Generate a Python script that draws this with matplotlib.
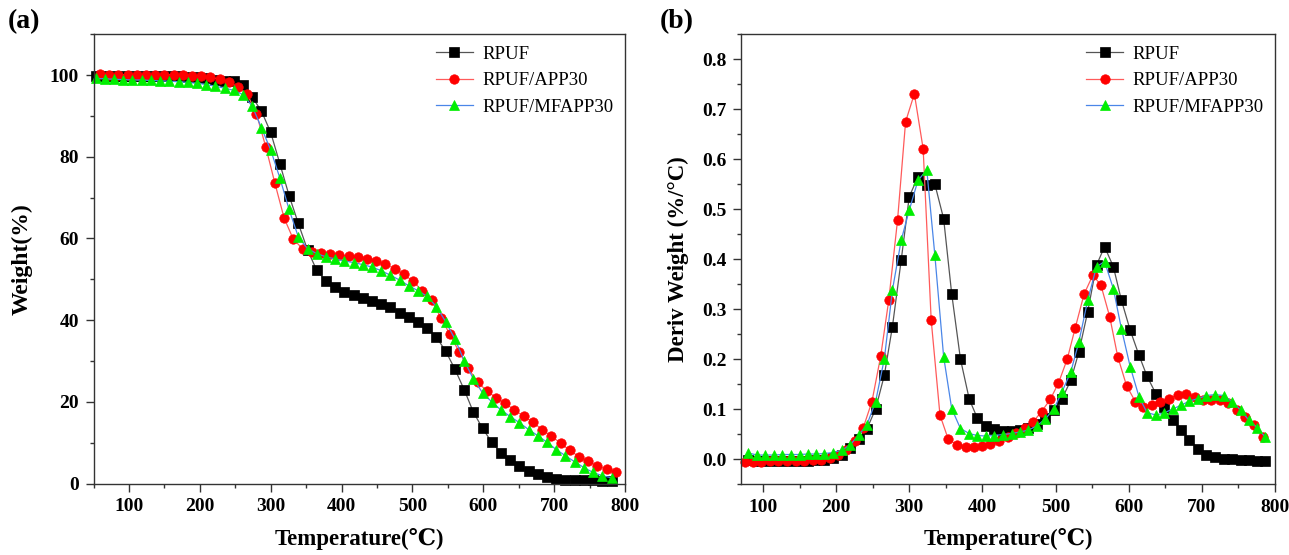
import matplotlib
matplotlib.use("Agg")
import matplotlib.pyplot as plt
from matplotlib.ticker import MultipleLocator, FormatStrFormatter

plt.rcParams['font.family'] = ['Liberation Serif', 'DejaVu Serif']

# ---------------- Panel (a): TGA weight (%) ----------------
temp_a_bg = [53, 66, 79, 92, 105, 118, 131, 144, 157, 170, 183, 196, 209, 222, 235, 248,
             261, 274, 287, 300, 313, 326, 339, 352, 365, 378, 391, 404, 417, 430, 443, 456,
             469, 482, 495, 508, 521, 534, 547, 560, 573, 586, 599, 612, 625, 638, 651, 664,
             677, 690, 703, 716, 729, 742, 755, 768, 781]
temp_a_red = [59, 72, 85, 98, 111, 124, 137, 150, 163, 176, 189, 202, 215, 228, 241, 254,
              267, 280, 293, 306, 319, 332, 345, 358, 371, 384, 397, 410, 423, 436, 449, 462,
              475, 488, 501, 514, 527, 540, 553, 566, 579, 592, 605, 618, 631, 644, 657, 670,
              683, 696, 709, 722, 735, 748, 761, 774, 787]

weight_rpuf = [99.7, 99.7, 99.7, 99.7, 99.7, 99.7, 99.7, 99.7, 99.7, 99.7, 99.6, 99.5, 99.3, 98.9,
               98.5, 98.6, 97.5, 94.6, 91.2, 86.0, 78.3, 70.5, 63.7, 57.2, 52.2, 49.6, 48.0, 47.0,
               46.2, 45.5, 44.8, 44.0, 43.1, 41.8, 40.7, 39.6, 38.1, 35.8, 32.4, 28.0, 23.0, 17.5,
               13.5, 10.1, 7.5, 5.7, 4.3, 3.1, 2.25, 1.55, 1.1, 0.9, 0.8, 0.8, 0.8, 0.7, 0.6]
weight_app30 = [100.2, 100.1, 100.1, 100.1, 100.1, 100.1, 100.1, 100.1, 100.1, 100.0, 99.9, 99.8,
                99.5, 99.0, 98.4, 97.0, 95.3, 90.5, 82.5, 73.5, 65.0, 59.8, 57.5, 56.8, 56.5, 56.3,
                56.0, 55.7, 55.4, 55.0, 54.5, 53.7, 52.6, 51.2, 49.5, 47.2, 45.0, 40.6, 36.5, 32.2,
                28.2, 24.8, 22.7, 21.0, 19.6, 18.0, 16.5, 15.0, 13.2, 11.6, 9.9, 8.1, 6.6, 5.4, 4.3,
                3.5, 2.8]
weight_mfapp30 = [99.2, 99.1, 99.0, 98.9, 98.8, 98.8, 98.7, 98.6, 98.5, 98.4, 98.2, 98.0, 97.7,
                  97.3, 96.8, 96.3, 95.2, 92.4, 87.1, 81.7, 74.8, 67.1, 60.4, 57.5, 56.3, 55.5,
                  55.0, 54.5, 54.1, 53.6, 53.0, 52.1, 51.0, 49.8, 48.4, 47.2, 45.8, 43.3, 39.6,
                  35.4, 30.1, 25.6, 22.2, 20.0, 18.0, 16.4, 14.9, 13.2, 11.7, 10.1, 8.3, 6.8, 5.3,
                  3.9, 2.7, 1.9, 1.4]

# ---------------- Panel (b): DTG (%/°C) ----------------
temp_b_bg = [80, 92, 103, 115, 126, 138, 150, 161, 173, 184, 196, 208, 219, 231, 242, 254, 266,
             277, 289, 300, 312, 324, 335, 347, 358, 370, 382, 393, 405, 416, 428, 440, 451, 463,
             474, 486, 498, 509, 521, 532, 544, 556, 567, 579, 590, 602, 614, 625, 637, 648, 660,
             672, 683, 695, 706, 718, 730, 741, 753, 764, 776, 786]
temp_b_red = [75, 87, 98, 110, 121, 133, 145, 156, 168, 179, 191, 203, 214, 226, 237, 249, 261,
              272, 284, 295, 307, 319, 330, 342, 353, 365, 377, 388, 400, 411, 423, 435, 446, 458,
              469, 481, 493, 504, 516, 527, 539, 551, 562, 574, 585, 597, 609, 620, 632, 643, 655,
              667, 678, 690, 701, 713, 725, 736, 748, 759, 771, 783]

deriv_rpuf = [-0.002, -0.003, -0.003, -0.004, -0.004, -0.004, -0.003, -0.003, -0.002, -0.001,
              0.002, 0.008, 0.022, 0.041, 0.060, 0.100, 0.168, 0.265, 0.398, 0.525, 0.565, 0.548,
              0.550, 0.481, 0.331, 0.200, 0.120, 0.082, 0.066, 0.060, 0.057, 0.056, 0.058, 0.063,
              0.071, 0.083, 0.098, 0.121, 0.158, 0.215, 0.295, 0.388, 0.425, 0.385, 0.318, 0.258,
              0.208, 0.166, 0.131, 0.105, 0.078, 0.058, 0.038, 0.021, 0.008, 0.004, 0.001, 0.000,
              -0.001, -0.002, -0.003, -0.004]
deriv_app30 = [-0.006, -0.005, -0.005, -0.004, -0.004, -0.004, -0.003, -0.003, -0.002, -0.001,
               0.003, 0.009, 0.019, 0.036, 0.062, 0.115, 0.206, 0.318, 0.478, 0.675, 0.731, 0.621,
               0.278, 0.088, 0.041, 0.028, 0.024, 0.024, 0.027, 0.031, 0.037, 0.044, 0.052, 0.062,
               0.074, 0.095, 0.120, 0.152, 0.200, 0.263, 0.330, 0.368, 0.348, 0.285, 0.205, 0.147,
               0.115, 0.105, 0.108, 0.115, 0.121, 0.128, 0.131, 0.125, 0.118, 0.118, 0.118, 0.112,
               0.098, 0.085, 0.068, 0.045]
deriv_mfapp30 = [0.012, 0.008, 0.008, 0.008, 0.009, 0.009, 0.009, 0.010, 0.010, 0.011, 0.013,
                 0.018, 0.028, 0.048, 0.068, 0.115, 0.201, 0.338, 0.438, 0.498, 0.558, 0.578,
                 0.408, 0.205, 0.101, 0.061, 0.051, 0.047, 0.046, 0.047, 0.049, 0.051, 0.054,
                 0.058, 0.066, 0.080, 0.101, 0.135, 0.175, 0.235, 0.318, 0.385, 0.395, 0.341,
                 0.261, 0.185, 0.125, 0.093, 0.088, 0.092, 0.100, 0.108, 0.116, 0.121, 0.127,
                 0.129, 0.127, 0.115, 0.098, 0.078, 0.062, 0.045]

labels = ["RPUF", "RPUF/APP30", "RPUF/MFAPP30"]
line_colors = ["#555555", "#ff5a5a", "#4a86e8"]
marker_colors = ["#000000", "#ff0000", "#00ee00"]
markers = ["s", "o", "^"]
msizes = [6.6, 6.8, 7.4]

W, H = 1289, 555
fig = plt.figure(figsize=(W / 100, H / 100), dpi=100)

ax_a = fig.add_axes([93.5 / W, 1 - 483.5 / H, (625 - 93.5) / W, (483.5 - 34.3) / H])
ax_b = fig.add_axes([741 / W, 1 - 484 / H, (1275 - 741) / W, (484 - 34.3) / H])

series_a = [(temp_a_bg, weight_rpuf), (temp_a_red, weight_app30), (temp_a_bg, weight_mfapp30)]
series_b = [(temp_b_bg, deriv_rpuf), (temp_b_red, deriv_app30), (temp_b_bg, deriv_mfapp30)]

for ax, series in ((ax_a, series_a), (ax_b, series_b)):
    for i, (x, y) in enumerate(series):
        ax.plot(x, y, color=line_colors[i], lw=0.9, marker=markers[i], ms=msizes[i],
                mfc=marker_colors[i], mec=marker_colors[i], mew=0.5, label=labels[i],
                clip_on=False)
    ax.set_xlim(50 if ax is ax_a else 70, 800)
    ax.xaxis.set_major_locator(MultipleLocator(100))
    ax.xaxis.set_minor_locator(MultipleLocator(50))
    ax.tick_params(which='both', direction='out', top=False, right=False,
                   width=1.0, color='#333333')
    ax.tick_params(which='major', length=5.5, labelsize=14, pad=5)
    ax.tick_params(which='minor', length=3)
    for sp in ax.spines.values():
        sp.set_linewidth(1.0)
        sp.set_color('#333333')
    ax.legend(loc='upper right', frameon=False, fontsize=13.5, handlelength=2.0,
              handletextpad=0.5, labelspacing=0.5, borderaxespad=0.2,
              bbox_to_anchor=(1.0, 1.0))
    ax.set_xlabel("Temperature(℃)", fontsize=16.5, fontweight='bold', labelpad=9)

ax_a.set_ylim(0, 110)
ax_a.yaxis.set_major_locator(MultipleLocator(20))
ax_a.yaxis.set_minor_locator(MultipleLocator(10))
ax_a.set_ylabel("Weight(%)", fontsize=17, fontweight='bold', labelpad=12)

ax_b.set_ylim(-0.05, 0.85)
ax_b.yaxis.set_major_locator(MultipleLocator(0.1))
ax_b.yaxis.set_minor_locator(MultipleLocator(0.05))
ax_b.yaxis.set_major_formatter(FormatStrFormatter('%.1f'))
ax_b.set_ylabel("Deriv Weight (%/°C)", fontsize=16.5, fontweight='bold', labelpad=9)

for ax in (ax_a, ax_b):
    for lab in ax.get_xticklabels() + ax.get_yticklabels():
        lab.set_fontweight('bold')

fig.text(8 / W, 1 - 22 / H, "(a)", fontsize=20, fontweight='bold', va='center', ha='left')
fig.text(660 / W, 1 - 22 / H, "(b)", fontsize=20, fontweight='bold', va='center', ha='left')

fig.savefig("out.png", dpi=100)
